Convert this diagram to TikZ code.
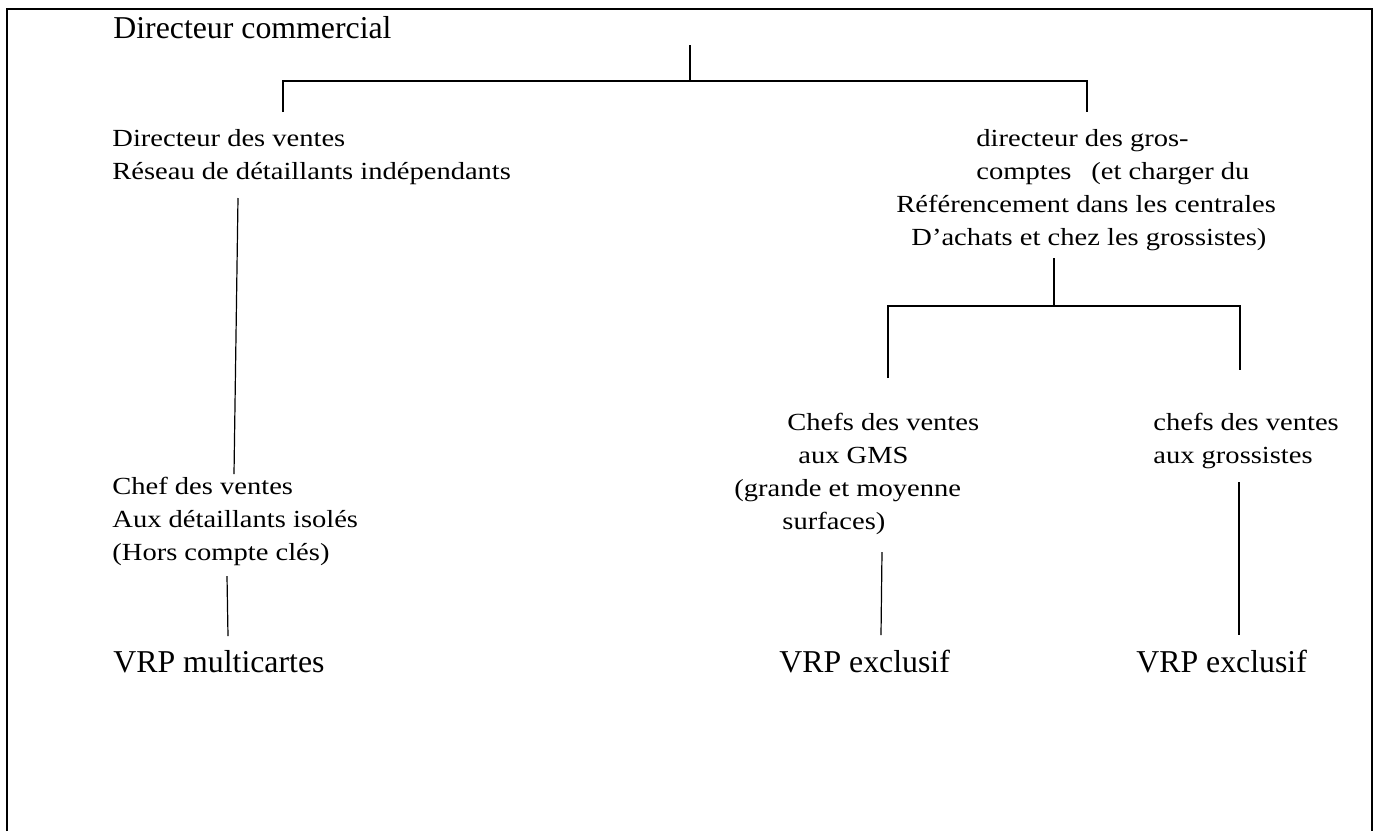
\documentclass[tikz,border=0pt]{standalone}
\usepackage{fontspec}
\setmainfont{Liberation Serif}
\newfontfamily\postelarge[FakeStretch=1.16,Ligatures=TeX]{Liberation Serif}
\usetikzlibrary{calc}

\tikzset{
  poste/.style={anchor=west,align=left,inner sep=0pt,font=\postelarge\fontsize{12.3}{16.5}\selectfont},
  grand/.style={anchor=west,inner sep=0pt,font=\fontsize{15.9}{19}\selectfont},
  lien/.style={line width=0.6pt}
}

\begin{document}
\begin{tikzpicture}[x=0.5pt,y=-0.5pt]
      \useasboundingbox (0,0) rectangle (1376,831);
      \draw[line width=0.75pt] (7,831) -- (7,9) -- (1372,9) -- (1372,831);

      % postes
      \node (dircom) at (113,28) [grand] {Directeur commercial};

      \node (dirvtes) at (112,157) [poste] {Directeur des ventes\\R\'eseau de d\'etaillants ind\'ependants};
      \node (dirgros) at (896,190) [poste] {\hspace*{40pt}directeur des gros-\\\hspace*{40pt}comptes\hspace{10pt}(et charger du\\R\'ef\'erencement dans les centrales\\\hspace*{7.5pt}D’achats et chez les grossistes)};

      \node (chefdet) at (112,521) [poste] {Chef des ventes\\Aux d\'etaillants isol\'es\\(Hors compte cl\'es)};
      \node (chefgms) at (734,474) [poste] {\hspace*{26.5pt}Chefs des ventes\\\hspace*{32pt}aux GMS\\(grande et moyenne\\\hspace*{24pt}surfaces)};
      \node (chefgros) at (1153,441) [poste] {chefs des ventes\\aux grossistes};

      \node (vrpmulti) at (113,662) [grand] {VRP multicartes};
      \node (vrpgms) at (779,662) [grand] {VRP exclusif};
      \node (vrpgros) at (1136,662) [grand] {VRP exclusif};

      % points de branchement
      \coordinate (dc-a) at (690,45);
      \coordinate (dc-b) at (690,81);
      \coordinate (dc-g) at (283,81);
      \coordinate (dc-d) at (1087,81);
      \coordinate (dv-a) at (238,198);
      \coordinate (dv-b) at (234,474);
      \coordinate (cd-a) at (227,576);
      \coordinate (cd-b) at (228,636);
      \coordinate (dg-a) at (1054,258);
      \coordinate (dg-b) at (1054,306);
      \coordinate (dg-g) at (888,306);
      \coordinate (dg-d) at (1240,306);
      \coordinate (cg-a) at (882,552);
      \coordinate (cg-b) at (881,635);
      \coordinate (cr-a) at (1239,482);
      \coordinate (cr-b) at (1239,635);

      \draw[lien] (dc-a) -- (dc-b);
      \draw[lien] (dc-g) ++(0,31) -- (dc-g) -- (dc-d) -- ++(0,31);
      \draw[lien] (dv-a) -- (dv-b);
      \draw[lien] (cd-a) -- (cd-b);
      \draw[lien] (dg-a) -- (dg-b);
      \draw[lien] (dg-g) ++(0,72) -- (dg-g) -- (dg-d) -- ++(0,64);
      \draw[lien] (cg-a) -- (cg-b);
      \draw[lien] (cr-a) -- (cr-b);
\end{tikzpicture}
\end{document}
